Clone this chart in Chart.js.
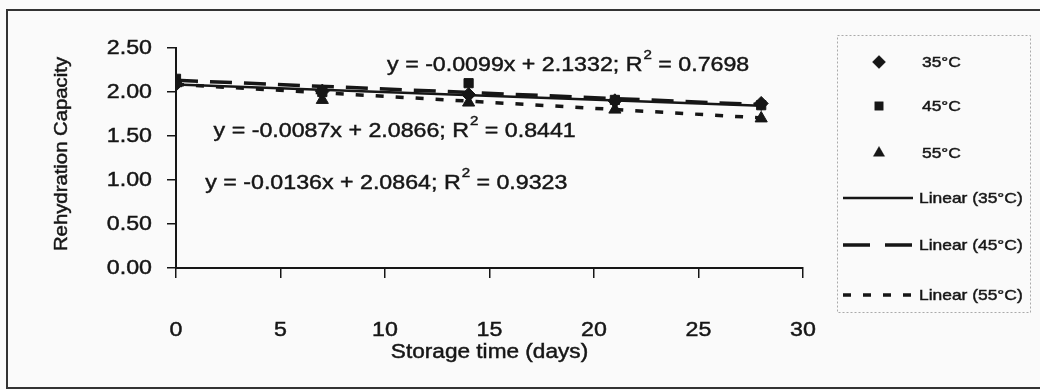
<!DOCTYPE html>
<html>
<head>
<meta charset="utf-8">
<script src="https://cdn.jsdelivr.net/npm/chart.js@4"></script>
<style>
  body { margin: 0; background: #fafafa; }
  canvas { display: block; }
</style>
</head>
<body>
<canvas id="chart" width="1040" height="390"></canvas>
<script>
// storage days and measured rehydration capacity
const days = [0, 7, 14, 21, 28];
const cap35 = [2.09, 2.01, 1.97, 1.90, 1.87];
const cap45 = [2.15, 2.00, 2.10, 1.91, 1.85];
const cap55 = [2.10, 1.91, 1.88, 1.80, 1.70];

const seriesNames = ["35°C", "45°C", "55°C"];
const trendNames = ["Linear (35°C)", "Linear (45°C)", "Linear (55°C)"];

// trendline coefficients as printed on the chart
const slopes = [-0.0087, -0.0099, -0.0136];
const intercepts = [2.0866, 2.1332, 2.0864];
const r2 = ["0.8441", "0.7698", "0.9323"];

const xTicks = [0, 5, 10, 15, 20, 25, 30];
const yTicks = [0, 0.5, 1, 1.5, 2, 2.5];
const xTitle = "Storage time (days)";
const yTitle = "Rehydration Capacity";

const ink = "#161616";
const fontFam = "'Liberation Sans', Arial, sans-serif";
const SX = 1.16; // the printed font is wider than Arial

function pts(ys) {
    return days.map((d, i) => ({ x: d, y: ys[i] }));
}
function trend(k) {
    let x0 = days[0], x1 = days[days.length - 1];
    return [{ x: x0, y: intercepts[k] + slopes[k] * x0 }, { x: x1, y: intercepts[k] + slopes[k] * x1 }];
}

// draw text widened along its own direction, slightly heavier like the scan
function wideText(c, str, x, y, size, align, rot) {
    c.save();
    c.translate(x, y);
    if (rot) c.rotate(rot);
    c.scale(SX, 1);
    c.font = size + "px " + fontFam;
    c.textAlign = align;
    c.textBaseline = "middle";
    c.fillStyle = ink;
    c.strokeStyle = ink;
    c.lineWidth = 0.45;
    c.fillText(str, 0, 0);
    c.strokeText(str, 0, 0);
    let w = c.measureText(str).width * SX;
    c.restore();
    return w;
}

const markerStyles = ["rectRot", "rect", "triangle"];
const markerSizes = [7, 6.5, 7];
const dashes = [[], [22, 12], [8, 12]];
const widths = [2.5, 3.5, 3.5];

let datasets = [];
[cap35, cap45, cap55].forEach((ys, k) => {
    datasets.push({
        label: seriesNames[k],
        data: pts(ys),
        showLine: false,
        pointStyle: markerStyles[k],
        pointRadius: markerSizes[k],
        backgroundColor: ink,
        borderColor: ink,
        borderWidth: 1
    });
});
[0, 1, 2].forEach(k => {
    datasets.push({
        label: trendNames[k],
        data: trend(k),
        showLine: true,
        pointRadius: 0,
        borderColor: ink,
        borderWidth: widths[k],
        borderDash: dashes[k],
        fill: false
    });
});

// equation labels: [series index, day, value] where the text starts
const eqPos = [[1, 10.1, 2.30], [0, 1.8, 1.55], [2, 1.4, 0.96]];

const decorPlugin = {
    id: "decor",
    beforeDraw(chart) {
        let c = chart.ctx;
        c.save();
        c.fillStyle = "#fafafa";
        c.fillRect(0, 0, chart.width, chart.height);
        // outer frame
        c.strokeStyle = "#333";
        c.lineWidth = 2;
        c.beginPath();
        c.moveTo(1045, 10);
        c.lineTo(7, 10);
        c.lineTo(7, 388);
        c.lineTo(1045, 388);
        c.stroke();
        c.restore();
    },
    afterDraw(chart) {
        let c = chart.ctx;
        let xs = chart.scales.x, ys = chart.scales.y;
        c.save();

        // tick labels and axis titles
        xTicks.forEach(v => wideText(c, String(v), xs.getPixelForValue(v), 330, 20, "center"));
        yTicks.forEach(v => wideText(c, v.toFixed(2), 152, ys.getPixelForValue(v), 20, "right"));
        wideText(c, xTitle, (xs.left + xs.right) / 2, 353, 19.5, "center");
        wideText(c, yTitle, 62, 154, 17.5, "center", -Math.PI / 2);

        // trendline equations
        eqPos.forEach(([k, dx, dy]) => {
            let px = xs.getPixelForValue(dx), py = ys.getPixelForValue(dy);
            let s1 = "y = " + slopes[k].toFixed(4) + "x + " + intercepts[k].toFixed(4) + "; R";
            px += wideText(c, s1, px, py, 20, "left");
            px += wideText(c, "2", px + 1, py - 10, 13, "left") + 1;
            wideText(c, " = " + r2[k], px, py, 20, "left");
        });

        // legend
        c.strokeStyle = "#aaa";
        c.lineWidth = 1;
        c.setLineDash([2, 2]);
        c.strokeRect(837.5, 35.5, 193, 277);
        c.setLineDash([]);
        let rows = [62, 106, 153];
        rows.forEach((y, k) => {
            c.fillStyle = ink;
            Chart.helpers.drawPoint(c, { pointStyle: markerStyles[k], radius: markerSizes[k] - 0.5, borderWidth: 1 }, 879, y);
            c.fill();
            wideText(c, seriesNames[k], 922, y + 1, 15, "left");
        });
        let lrows = [198, 245, 295];
        lrows.forEach((y, k) => {
            c.strokeStyle = ink;
            c.lineWidth = widths[k];
            c.setLineDash(k === 1 ? [27, 15] : dashes[k]);
            c.beginPath();
            c.moveTo(843, y);
            c.lineTo(913, y);
            c.stroke();
            c.setLineDash([]);
            wideText(c, trendNames[k], 919, y + 1, 15, "left");
        });
        c.restore();
    }
};

new Chart(document.getElementById("chart").getContext("2d"), {
    type: "scatter",
    data: { datasets: datasets },
    options: {
        responsive: false,
        animation: false,
        layout: { padding: { top: 48, right: 237, left: 0, bottom: 0 } },
        plugins: { legend: { display: false }, tooltip: { enabled: false } },
        scales: {
            x: {
                type: "linear",
                min: 0,
                max: 30,
                afterBuildTicks: s => { s.ticks = xTicks.map(v => ({ value: v })); },
                afterFit: s => { s.height = 122; },
                ticks: { display: false },
                grid: { drawOnChartArea: false, tickLength: 10, color: ink, lineWidth: 1.5 },
                border: { color: ink, width: 2 },
                title: { display: false, text: xTitle }
            },
            y: {
                min: 0,
                max: 2.5,
                afterBuildTicks: s => { s.ticks = yTicks.map(v => ({ value: v })); },
                afterFit: s => { s.width = 176; },
                ticks: { display: false },
                grid: { drawOnChartArea: false, tickLength: 9, color: ink, lineWidth: 1.5 },
                border: { color: ink, width: 2 },
                title: { display: false, text: yTitle }
            }
        }
    },
    plugins: [decorPlugin]
});
</script>
</body>
</html>
